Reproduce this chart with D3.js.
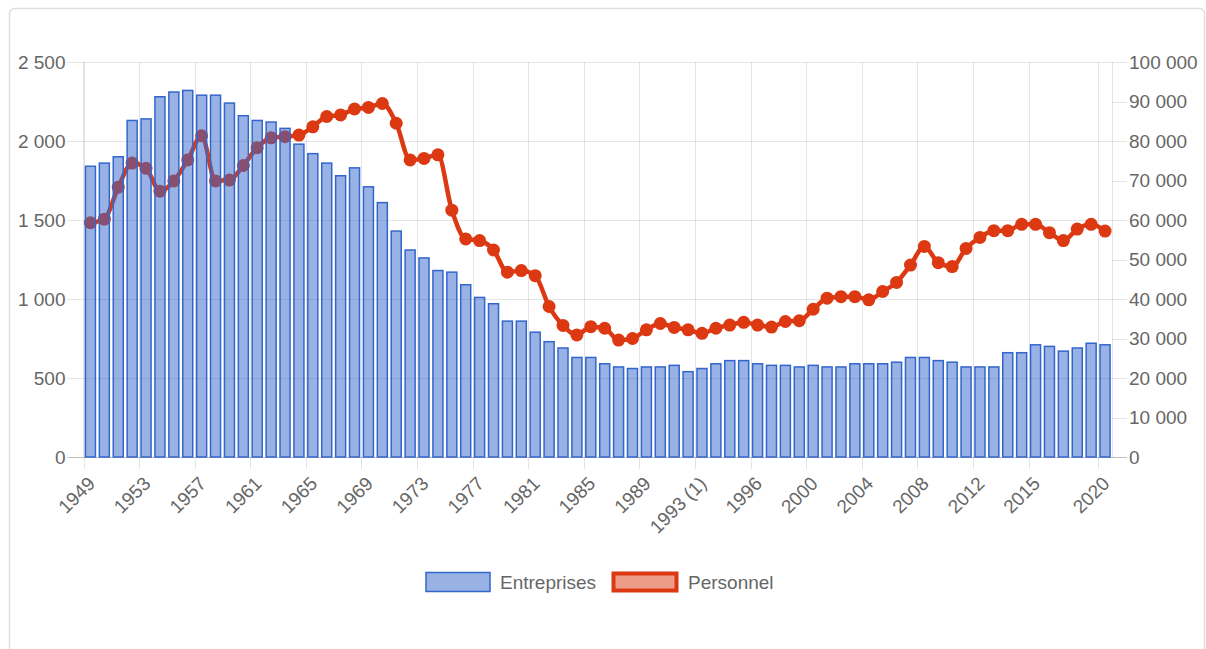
<!DOCTYPE html>
<html lang="fr">

<head>
    <meta charset="UTF-8">
    <title>Entreprises et personnel</title>
    <script src="https://d3js.org/d3.v7.min.js"></script>
</head>
<style>
    body {
        margin: 0;
        background: #fff;
    }
    
    svg text {
        font-family: "Liberation Sans", Arial, sans-serif;
        fill: #666;
    }
</style>

<body>
    <div id="chart"></div>
    <script>
        // categories (years), two entries for 1993 and 2014
        const labels = [
            "1949", "1950", "1951", "1952", "1953", "1954", "1955", "1956", "1957", "1958",
            "1959", "1960", "1961", "1962", "1963", "1964", "1965", "1966", "1967", "1968",
            "1969", "1970", "1971", "1972", "1973", "1974", "1975", "1976", "1977", "1978",
            "1979", "1980", "1981", "1982", "1983", "1984", "1985", "1986", "1987", "1988",
            "1989", "1990", "1991", "1992", "1993 (1)", "1993 (2)", "1994", "1995", "1996", "1997",
            "1998", "1999", "2000", "2001", "2002", "2003", "2004", "2005", "2006", "2007",
            "2008", "2009", "2010", "2011", "2012", "2013", "2014", "2014 (2)", "2015", "2016",
            "2017", "2018", "2019", "2020"
        ];

        const entreprises = [
            1840, 1860, 1900, 2130, 2140, 2280, 2310, 2320, 2290, 2290,
            2240, 2160, 2130, 2120, 2080, 1980, 1920, 1860, 1780, 1830,
            1710, 1610, 1430, 1310, 1260, 1180, 1170, 1090, 1010, 970,
            860, 860, 790, 730, 690, 630, 630, 590, 570, 560,
            570, 570, 580, 540, 560, 590, 610, 610, 590, 580,
            580, 570, 580, 570, 570, 590, 590, 590, 600, 630,
            630, 610, 600, 570, 570, 570, 660, 660, 710, 700,
            670, 690, 720, 710
        ];

        const personnel = [
            59300, 60200, 68300, 74400, 73100, 67300, 69900, 75200, 81300, 69900,
            70100, 73800, 78300, 80800, 81100, 81500, 83600, 86200, 86600, 88100,
            88500, 89500, 84500, 75200, 75600, 76500, 62500, 55200, 54800, 52400,
            46800, 47200, 45900, 38100, 33300, 30900, 33000, 32600, 29600, 30000,
            32200, 33800, 32800, 32200, 31300, 32600, 33400, 34100, 33400, 32900,
            34300, 34500, 37400, 40200, 40600, 40600, 39800, 41900, 44200, 48600,
            53300, 49200, 48200, 52800, 55600, 57300, 57300, 58900, 58900, 56800,
            54800, 57700, 58900, 57200
        ];

        const leftTicks = [0, 500, 1000, 1500, 2000, 2500];
        const rightTicks = [0, 10000, 20000, 30000, 40000, 50000, 60000, 70000, 80000, 90000, 100000];

        const width = 1206,
            height = 649;
        const plot = {
            left: 83.5,
            right: 1112,
            top: 62,
            bottom: 457
        };

        const fr = d3.formatLocale({
            decimal: ",",
            thousands: "\u00a0",
            grouping: [3],
            currency: ["", " €"]
        }).format(",d");

        const blue = "#3366cc",
            red = "#dc3912";

        const svg = d3.select('#chart')
            .append('svg')
            .attr('width', width)
            .attr('height', height);

        // card border
        svg.append('rect')
            .attr('x', 9.5)
            .attr('y', 8.5)
            .attr('width', 1195)
            .attr('height', 660)
            .attr('rx', 5)
            .attr('fill', 'none')
            .attr('stroke', '#dedede')
            .attr('stroke-width', 1.5);

        const x = d3.scaleBand()
            .domain(labels)
            .range([plot.left, plot.right])
            .paddingInner(0)
            .paddingOuter(0);

        const yLeft = d3.scaleLinear()
            .domain([0, 2500])
            .range([plot.bottom, plot.top]);

        const yRight = d3.scaleLinear()
            .domain([0, 100000])
            .range([plot.bottom, plot.top]);

        const step = x.step();
        const barW = step * 0.72;

        // x labels shown every 4 categories, plus the last one
        const shown = labels.filter((d, i) => i % 4 === 0 && i <= labels.length - 5);
        shown.push(labels[labels.length - 1]);

        // vertical grid lines (between categories) with ticks below axis
        svg.append('g')
            .selectAll('line')
            .data(shown)
            .enter()
            .append('line')
            .attr('x1', d => Math.round(x(d)) + 0.5)
            .attr('x2', d => Math.round(x(d)) + 0.5)
            .attr('y1', plot.top)
            .attr('y2', plot.bottom + 12)
            .attr('stroke', 'rgba(0,0,0,0.1)')
            .attr('stroke-width', 1);

        // horizontal grid lines from the left axis
        svg.append('g')
            .selectAll('line')
            .data(leftTicks)
            .enter()
            .append('line')
            .attr('x1', plot.left - 16)
            .attr('x2', plot.right)
            .attr('y1', d => Math.round(yLeft(d)) + 0.5)
            .attr('y2', d => Math.round(yLeft(d)) + 0.5)
            .attr('stroke', d => d === 0 ? 'rgba(0,0,0,0.25)' : 'rgba(0,0,0,0.1)')
            .attr('stroke-width', 1);

        // left axis line
        svg.append('line')
            .attr('x1', plot.left)
            .attr('x2', plot.left)
            .attr('y1', plot.top)
            .attr('y2', plot.bottom)
            .attr('stroke', 'rgba(0,0,0,0.1)');

        // right axis line and tick marks
        svg.append('line')
            .attr('x1', plot.right + 0.5)
            .attr('x2', plot.right + 0.5)
            .attr('y1', plot.top)
            .attr('y2', plot.bottom)
            .attr('stroke', 'rgba(0,0,0,0.1)');

        svg.append('g')
            .selectAll('line')
            .data(rightTicks)
            .enter()
            .append('line')
            .attr('x1', plot.right)
            .attr('x2', plot.right + 15)
            .attr('y1', d => Math.round(yRight(d)) + 0.5)
            .attr('y2', d => Math.round(yRight(d)) + 0.5)
            .attr('stroke', d => d === 0 ? 'rgba(0,0,0,0.25)' : 'rgba(0,0,0,0.1)');

        // tick labels
        svg.append('g')
            .selectAll('text')
            .data(leftTicks)
            .enter()
            .append('text')
            .attr('x', plot.left - 18)
            .attr('y', d => yLeft(d))
            .attr('dy', '0.35em')
            .attr('text-anchor', 'end')
            .attr('font-size', '19px')
            .text(d => fr(d));

        svg.append('g')
            .selectAll('text')
            .data(rightTicks)
            .enter()
            .append('text')
            .attr('x', plot.right + 17)
            .attr('y', d => yRight(d))
            .attr('dy', '0.35em')
            .attr('text-anchor', 'start')
            .attr('font-size', '19px')
            .text(d => fr(d));

        svg.append('g')
            .selectAll('text')
            .data(shown)
            .enter()
            .append('text')
            .attr('transform', d => 'translate(' + (x(d) + step / 2 + 1) + ',' + (plot.bottom + 23) + ') rotate(-45)')
            .attr('dy', '0.35em')
            .attr('text-anchor', 'end')
            .attr('font-size', '19px')
            .text(d => d);

        // Personnel line (drawn under the bars)
        const line = d3.line()
            .x((d, i) => x(labels[i]) + step / 2)
            .y(d => yRight(d))
            .curve(d3.curveMonotoneX);

        svg.append('path')
            .datum(personnel)
            .attr('d', line)
            .attr('fill', 'none')
            .attr('stroke', red)
            .attr('stroke-width', 4.5);

        svg.append('g')
            .selectAll('circle')
            .data(personnel)
            .enter()
            .append('circle')
            .attr('cx', (d, i) => x(labels[i]) + step / 2)
            .attr('cy', d => yRight(d))
            .attr('r', 6.5)
            .attr('fill', red);

        // Entreprises bars
        svg.append('g')
            .selectAll('rect')
            .data(entreprises)
            .enter()
            .append('rect')
            .attr('x', (d, i) => x(labels[i]) + (step - barW) / 2)
            .attr('y', d => yLeft(d))
            .attr('width', barW)
            .attr('height', d => plot.bottom - yLeft(d))
            .attr('fill', 'rgba(51,102,204,0.5)')
            .attr('stroke', blue)
            .attr('stroke-width', 1.5);

        // legend
        const legend = svg.append('g');
        legend.append('rect')
            .attr('x', 426)
            .attr('y', 572.5)
            .attr('width', 64)
            .attr('height', 19)
            .attr('fill', 'rgba(51,102,204,0.5)')
            .attr('stroke', blue)
            .attr('stroke-width', 1.5);
        legend.append('text')
            .attr('x', 500)
            .attr('y', 582)
            .attr('dy', '0.35em')
            .attr('font-size', '19px')
            .text('Entreprises');
        legend.append('rect')
            .attr('x', 613.5)
            .attr('y', 573.5)
            .attr('width', 63)
            .attr('height', 17)
            .attr('fill', 'rgba(220,57,18,0.5)')
            .attr('stroke', red)
            .attr('stroke-width', 4);
        legend.append('text')
            .attr('x', 688)
            .attr('y', 582)
            .attr('dy', '0.35em')
            .attr('font-size', '19px')
            .text('Personnel');
    </script>
</body>

</html>
